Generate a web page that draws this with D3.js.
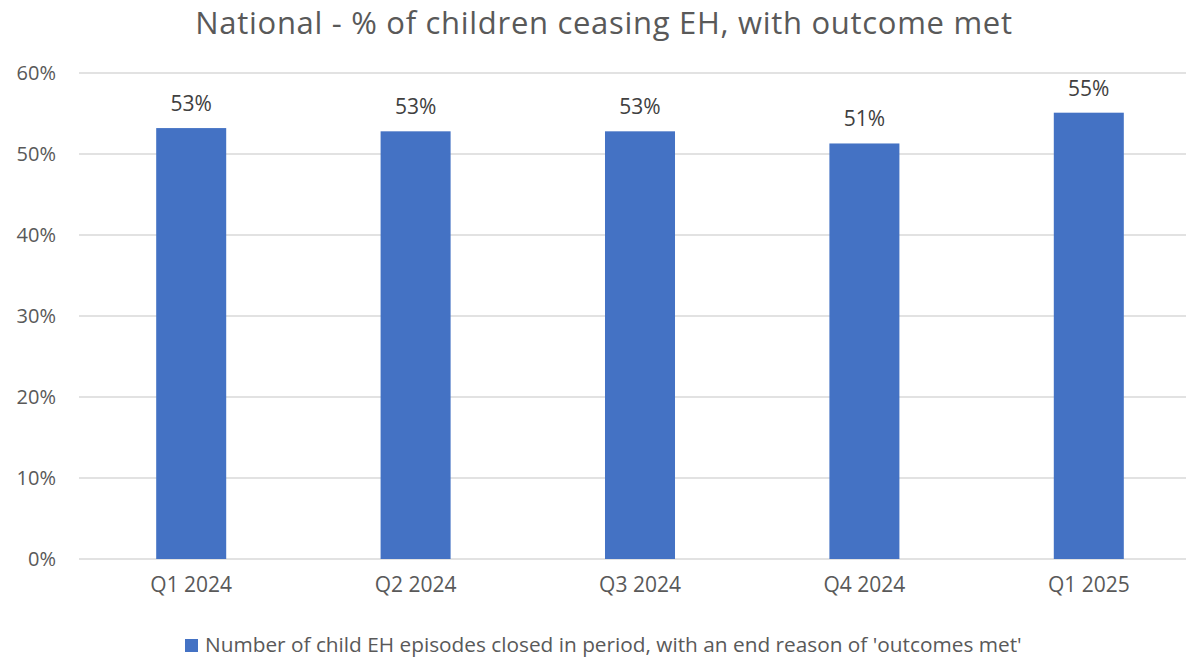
<!DOCTYPE html>
<html>
<head>
<meta charset="utf-8">
<script src="https://cdn.jsdelivr.net/npm/d3@7"></script>
<style>
  html, body { margin: 0; padding: 0; background: #fff; }
  svg { display: block; font-family: "Open Sans", "Noto Sans", sans-serif; }
</style>
</head>
<body>
<svg id="chart" width="1186" height="657"></svg>
<script>
// Quarterly share of children ceasing Early Help with outcome met
const categories = ["Q1 2024", "Q2 2024", "Q3 2024", "Q4 2024", "Q1 2025"];
const values = [0.532, 0.528, 0.528, 0.513, 0.551];
const yTicks = [0, 0.1, 0.2, 0.3, 0.4, 0.5, 0.6];
const seriesName = "Number of child EH episodes closed in period, with an end reason of 'outcomes met'";
const titleText = "National - % of children ceasing EH, with outcome met";

const svg = d3.select("#chart");
const textColor = "#595959";
const barColor = "#4472C4";

const x = d3.scaleBand()
  .domain(categories)
  .range([79, 1201])
  .paddingInner(0.688)
  .paddingOuter(0.344);

const y = d3.scaleLinear().domain([0, 0.6]).range([559, 73]);
const pct = d3.format(".0%");

// gridlines
svg.append("g")
  .selectAll("line")
  .data(yTicks)
  .join("line")
  .attr("x1", 79).attr("x2", 1201)
  .attr("y1", d => y(d)).attr("y2", d => y(d))
  .attr("stroke", "#d9d9d9")
  .attr("stroke-width", 1.3);

// y-axis labels
const yAxis = d3.axisLeft(y).tickValues(yTicks).tickFormat(pct).tickSize(0).tickPadding(0);
svg.append("g")
  .attr("transform", "translate(56,0)")
  .call(yAxis)
  .call(g => g.select(".domain").remove())
  .call(g => g.selectAll("text")
    .attr("fill", textColor)
    .style("font-size", "20px")
    .style("font-family", "'Open Sans', sans-serif"));

// bars
svg.append("g")
  .selectAll("rect")
  .data(values)
  .join("rect")
  .attr("x", (d, i) => x(categories[i]))
  .attr("width", x.bandwidth())
  .attr("y", d => y(d))
  .attr("height", d => y(0) - y(d))
  .attr("fill", barColor);

// value labels
svg.append("g")
  .selectAll("text")
  .data(values)
  .join("text")
  .attr("x", (d, i) => x(categories[i]) + x.bandwidth() / 2)
  .attr("y", d => y(d) - 17)
  .attr("text-anchor", "middle")
  .attr("fill", "#404040")
  .style("font-size", "21px")
  .text(d => pct(d));

// x-axis labels
const xAxis = d3.axisBottom(x).tickSize(0).tickPadding(0);
svg.append("g")
  .attr("transform", "translate(0,577)")
  .call(xAxis)
  .call(g => g.select(".domain").remove())
  .call(g => g.selectAll("text")
    .attr("fill", textColor)
    .style("font-size", "21px")
    .style("font-family", "'Open Sans', sans-serif"));

// title
svg.append("text")
  .attr("x", 604)
  .attr("y", 34)
  .attr("text-anchor", "middle")
  .attr("fill", textColor)
  .style("font-size", "31px")
  .style("letter-spacing", "0.7px")
  .text(titleText);

// legend
const legend = svg.append("g").attr("transform", "translate(185,639)");
legend.append("rect")
  .attr("width", 13).attr("height", 13)
  .attr("fill", barColor);
legend.append("text")
  .attr("x", 20)
  .attr("y", 13)
  .attr("fill", textColor)
  .style("font-size", "20.8px")
  .text(seriesName);
</script>
</body>
</html>
